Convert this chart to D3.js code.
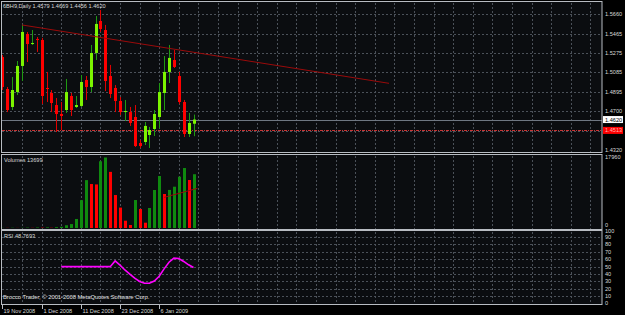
<!DOCTYPE html>
<html>
<head>
<meta charset="utf-8">
<script src="https://cdn.jsdelivr.net/npm/d3@7/dist/d3.min.js"></script>
<style>
  body { margin: 0; background: #000; }
  svg { display: block; }
  text { font-family: "Liberation Sans", Arial, sans-serif; }
</style>
</head>
<body>
<div id="chart"></div>
<script>
// daily bars, 6BH9
var opens  = [1.5236, 1.4921, 1.4744, 1.4891, 1.5148, 1.5463, 1.5364, 1.5414, 1.5404, 1.4931,
              1.4882, 1.4763, 1.4675, 1.4714, 1.4852, 1.4744, 1.4754, 1.5010, 1.4941, 1.5276,
              1.5591, 1.5502, 1.5049, 1.4931, 1.4803, 1.4694, 1.4694, 1.4645, 1.4389, 1.4399,
              1.4468, 1.4527, 1.4645, 1.4882, 1.5089, 1.5207, 1.5049, 1.4793, 1.4478, 1.4579];
var highs  = [1.5256, 1.4941, 1.5039, 1.5197, 1.5552, 1.5483, 1.5502, 1.5433, 1.5424, 1.5089,
              1.4911, 1.4832, 1.4793, 1.5020, 1.4882, 1.4852, 1.5059, 1.5049, 1.5355, 1.5640,
              1.5699, 1.5552, 1.5158, 1.4960, 1.4842, 1.4813, 1.4744, 1.4763, 1.4419, 1.4596,
              1.4547, 1.4714, 1.4980, 1.5246, 1.5355, 1.5305, 1.5089, 1.4813, 1.4685, 1.4669];
var lows   = [1.4911, 1.4694, 1.4714, 1.4862, 1.5000, 1.5187, 1.5355, 1.5286, 1.4773, 1.4793,
              1.4694, 1.4497, 1.4517, 1.4685, 1.4655, 1.4734, 1.4744, 1.4813, 1.4891, 1.5207,
              1.5483, 1.4901, 1.4832, 1.4694, 1.4665, 1.4606, 1.4557, 1.4350, 1.4340, 1.4369,
              1.4340, 1.4458, 1.4537, 1.4714, 1.4980, 1.5128, 1.4773, 1.4448, 1.4448, 1.4456];
var closes = [1.4941, 1.4714, 1.4911, 1.5148, 1.5483, 1.5364, 1.5374, 1.5404, 1.4852, 1.4921,
              1.4783, 1.4675, 1.4655, 1.4891, 1.4714, 1.4763, 1.4990, 1.4941, 1.5276, 1.5562,
              1.5512, 1.5000, 1.4872, 1.4803, 1.4694, 1.4704, 1.4586, 1.4359, 1.4359, 1.4557,
              1.4517, 1.4675, 1.4891, 1.5089, 1.5227, 1.5138, 1.4793, 1.4478, 1.4586, 1.4620];
var volumes = [40, 30, 60, 20, 50, 90, 40, 120, 80, 150, 60, 210, 300, 700,
               1000, 2300, 7100, 12200, 11200, 11100, 17000, 17960, 14300, 8400,
               5200, 1860, 760, 7130, 4840, 1350, 5100, 9680, 13250, 8660,
               9700, 10520, 13070, 15280, 12230, 13699];
var rsi = [null, null, null, null, null, null, null, null, null, null, null, null,
           50, 50, 50, 50, 50, 50, 50, 50, 50, 50, 50,
           57.8, 52, 45.5, 40, 34.5, 30, 27.5, 27.5, 30.5, 37, 47, 56, 61.5, 61, 57, 52.5, 48.7693];

var timeLabels = ["19 Nov 2008", "1 Dec 2008", "11 Dec 2008", "23 Dec 2008", "6 Jan 2009"];
var timeLabelIdx = [0, 8, 16, 24, 32];
var priceTicks = [1.5660, 1.5465, 1.5275, 1.5085, 1.4895, 1.4700, 1.4510, 1.4320];
var priceTickLabels = ["1.5660", "1.5465", "1.5275", "1.5085", "1.4895", "1.4700", "", "1.4320"];
var rsiTicks = [100, 90, 80, 70, 60, 50, 40, 30, 20, 10, 0];
var volMax = 17960;

var bidPrice = 1.4620, linePrice = 1.4513;
var trendIdx = [4, 78.9], trendPrice = [1.5552, 1.4977];
var volTrendIdx = [33, 39.8], volTrendVal = [7800, 10100];

var width = 625, height = 315;
var left = 2, right = 602;
var mainTop = 1, mainBottom = 152, volTop = 154, volBottom = 229, rsiTop = 230, rsiBottom = 304;

var svg = d3.select("#chart").append("svg")
  .attr("width", width)
  .attr("height", height);

svg.append("rect").attr("width", width).attr("height", height).attr("fill", "#000");

var x = d3.scaleLinear().domain([0, 39]).range([2.4, 193.5]);
var yPrice = d3.scaleLinear().domain([1.4320, 1.5660]).range([150, 14]);
var yVol = d3.scaleLinear().domain([0, volMax]).range([228, 157.5]);
var yRsi = d3.scaleLinear().domain([0, 100]).range([303.7, 229.6]);

var gridColor = "#4b5159";
var px = function (i) { return Math.round(x(i)); };

// panel backgrounds
[[mainTop, mainBottom], [volTop, volBottom], [rsiTop, rsiBottom]].forEach(function (p) {
  svg.append("rect")
    .attr("x", left).attr("y", p[0])
    .attr("width", right - left).attr("height", p[1] - p[0])
    .attr("fill", "#0b0d10");
});

// vertical grid
var gridIdx = d3.range(4, 123, 4).filter(function (i) { return x(i) < right; });
[[mainTop, mainBottom], [volTop, volBottom], [rsiTop, rsiBottom]].forEach(function (p) {
  svg.append("g").selectAll("line")
    .data(gridIdx)
    .enter().append("line")
    .attr("x1", function (d) { return px(d) + 0.5; })
    .attr("x2", function (d) { return px(d) + 0.5; })
    .attr("y1", p[0] + 2).attr("y2", p[1])
    .attr("stroke", gridColor)
    .attr("stroke-dasharray", "2,2");
});

// horizontal grid, price
svg.append("g").selectAll("line")
  .data(priceTicks.slice(0, -1))
  .enter().append("line")
  .attr("x1", left).attr("x2", right)
  .attr("y1", function (d) { return Math.round(yPrice(d)) + 0.5; })
  .attr("y2", function (d) { return Math.round(yPrice(d)) + 0.5; })
  .attr("stroke", gridColor)
  .attr("stroke-dasharray", "2,2");

// horizontal grid, rsi
svg.append("g").selectAll("line")
  .data(rsiTicks.slice(1, -1))
  .enter().append("line")
  .attr("x1", left).attr("x2", right)
  .attr("y1", function (d) { return Math.round(yRsi(d)) + 0.5; })
  .attr("y2", function (d) { return Math.round(yRsi(d)) + 0.5; })
  .attr("stroke", gridColor)
  .attr("stroke-dasharray", "2,2");

// bid line and red horizontal line
svg.append("line")
  .attr("x1", left).attr("x2", right)
  .attr("y1", Math.round(yPrice(bidPrice)) + 0.5).attr("y2", Math.round(yPrice(bidPrice)) + 0.5)
  .attr("stroke", "#6f7782");
svg.append("line")
  .attr("x1", left).attr("x2", right)
  .attr("y1", Math.round(yPrice(linePrice)) + 0.5).attr("y2", Math.round(yPrice(linePrice)) + 0.5)
  .attr("stroke", "#c83434")
  .attr("stroke-dasharray", "3,1,1,1");

// candles
var bars = d3.range(opens.length);
var candles = svg.append("g").selectAll("g")
  .data(bars)
  .enter().append("g");

candles.append("line")
  .attr("x1", function (i) { return px(i) + 0.5; })
  .attr("x2", function (i) { return px(i) + 0.5; })
  .attr("y1", function (i) { return yPrice(highs[i]); })
  .attr("y2", function (i) { return yPrice(lows[i]); })
  .attr("stroke", function (i) { return closes[i] >= opens[i] ? "#1f9a12" : "#e00000"; });

candles.append("rect")
  .attr("x", function (i) { return px(i) - 1; })
  .attr("width", 3)
  .attr("y", function (i) { return yPrice(Math.max(opens[i], closes[i])); })
  .attr("height", function (i) { return Math.max(1, Math.abs(yPrice(opens[i]) - yPrice(closes[i]))); })
  .attr("fill", function (i) { return closes[i] >= opens[i] ? "#7cf400" : "#ff0000"; });

// trend line on price
svg.append("line")
  .attr("x1", x(trendIdx[0])).attr("y1", yPrice(trendPrice[0]))
  .attr("x2", x(trendIdx[1])).attr("y2", yPrice(trendPrice[1]))
  .attr("stroke", "#9a0a0a")
  .attr("stroke-width", 1);

// volumes
svg.append("g").selectAll("rect")
  .data(bars)
  .enter().append("rect")
  .attr("x", function (i) { return px(i) - 1; })
  .attr("width", 3)
  .attr("y", function (i) { return yVol(volumes[i]); })
  .attr("height", function (i) { return yVol(0) - yVol(volumes[i]); })
  .attr("fill", function (i) { return i > 0 && volumes[i] < volumes[i - 1] ? "#ff0000" : "#0f8a0f"; });

svg.append("line")
  .attr("x1", x(volTrendIdx[0])).attr("y1", yVol(volTrendVal[0]))
  .attr("x2", x(volTrendIdx[1])).attr("y2", yVol(volTrendVal[1]))
  .attr("stroke", "#9a0a0a");

// rsi
var line = d3.line()
  .defined(function (d) { return d != null; })
  .x(function (d, i) { return x(i); })
  .y(function (d) { return yRsi(d); });

svg.append("path")
  .datum(rsi)
  .attr("d", line)
  .attr("fill", "none")
  .attr("stroke", "#ff00ff")
  .attr("stroke-width", 1.6);

// panel borders
[[mainTop, mainBottom], [volTop, volBottom], [rsiTop, rsiBottom]].forEach(function (p) {
  svg.append("rect")
    .attr("x", left - 0.5).attr("y", p[0] + 0.5)
    .attr("width", right - left + 0.5).attr("height", p[1] - p[0])
    .attr("fill", "none")
    .attr("stroke", "#b8bcc2");
});

// price scale labels
var fs = "5.6px";
svg.append("g").selectAll("text")
  .data(priceTicks)
  .enter().append("text")
  .attr("x", right + 3)
  .attr("y", function (d) { return yPrice(d) + 2; })
  .attr("font-size", fs)
  .attr("fill", "#d8d8d8")
  .text(function (d, i) { return priceTickLabels[i]; });

svg.append("rect")
  .attr("x", right + 1).attr("y", yPrice(bidPrice) - 3.5)
  .attr("width", 20).attr("height", 7).attr("fill", "#fff");
svg.append("text")
  .attr("x", right + 3).attr("y", yPrice(bidPrice) + 2)
  .attr("font-size", fs).attr("fill", "#000")
  .text(bidPrice.toFixed(4));

svg.append("rect")
  .attr("x", right + 1).attr("y", yPrice(linePrice) - 3.5)
  .attr("width", 20).attr("height", 7).attr("fill", "#ff0000");
svg.append("text")
  .attr("x", right + 3).attr("y", yPrice(linePrice) + 2)
  .attr("font-size", fs).attr("fill", "#ffb0b0")
  .text(linePrice.toFixed(4));

// volume scale
svg.append("text").attr("x", right + 3).attr("y", volTop + 5)
  .attr("font-size", fs).attr("fill", "#d8d8d8").text(String(volMax));
svg.append("text").attr("x", right + 3).attr("y", yVol(0) - 1)
  .attr("font-size", fs).attr("fill", "#d8d8d8").text("0");

// rsi scale
svg.append("g").selectAll("text")
  .data(rsiTicks)
  .enter().append("text")
  .attr("x", right + 3)
  .attr("y", function (d) {
    if (d === 100) return yRsi(d) + 3.6;
    if (d === 0) return yRsi(d) + 1.2;
    return yRsi(d) + 2;
  })
  .attr("font-size", fs)
  .attr("fill", "#d8d8d8")
  .text(function (d) { return d; });

// time axis
var ta = svg.append("g");
ta.selectAll("line")
  .data(timeLabelIdx)
  .enter().append("line")
  .attr("x1", function (d) { return px(d) + 0.5; })
  .attr("x2", function (d) { return px(d) + 0.5; })
  .attr("y1", rsiBottom + 1).attr("y2", rsiBottom + 5)
  .attr("stroke", "#b8bcc2");
ta.selectAll("text")
  .data(timeLabelIdx)
  .enter().append("text")
  .attr("x", function (d) { return px(d) + 1.5; })
  .attr("y", rsiBottom + 9)
  .attr("font-size", fs)
  .attr("fill", "#d8d8d8")
  .text(function (d, i) { return timeLabels[i]; });

// window titles
var last = opens.length - 1;
svg.append("text").attr("x", 3).attr("y", 8).attr("font-size", fs).attr("fill", "#d8d8d8")
  .text("6BH9,Daily  " + opens[last].toFixed(4) + " " + highs[last].toFixed(4) + " " + lows[last].toFixed(4) + " " + closes[last].toFixed(4));
svg.append("text").attr("x", 4).attr("y", volTop + 8).attr("font-size", fs).attr("fill", "#d8d8d8")
  .text("Volumes " + volumes[last]);
svg.append("text").attr("x", 4).attr("y", rsiTop + 8).attr("font-size", fs).attr("fill", "#d8d8d8")
  .text("RSI " + rsi[last].toFixed(4));
svg.append("text").attr("x", 3).attr("y", rsiBottom - 5).attr("font-size", "5.8px").attr("fill", "#e0e0e0")
  .text("Brocco Trader, \u00a9 2001-2008 MetaQuotes Software Corp.");
</script>
</body>
</html>
